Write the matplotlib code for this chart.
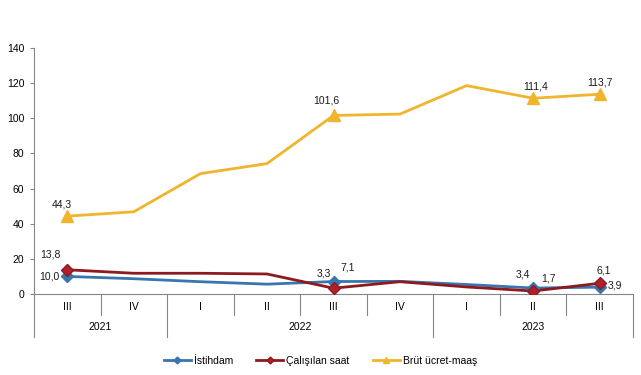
import matplotlib
matplotlib.use("Agg")
import matplotlib.pyplot as plt
from matplotlib.lines import Line2D

plt.rcParams['font.family'] = ['Liberation Sans', 'DejaVu Sans']

quarters = ["III", "IV", "I", "II", "III", "IV", "I", "II", "III"]
years = ["2021", "2022", "2023"]
year_spans = [(0, 1), (2, 5), (6, 8)]

istihdam = [10.0, 8.7, 7.0, 5.6, 7.1, 7.2, 5.4, 3.4, 3.9]
calisilan = [13.8, 11.8, 11.8, 11.4, 3.3, 7.0, 4.0, 1.7, 6.1]
brut = [44.3, 46.8, 68.5, 74.2, 101.6, 102.4, 118.6, 111.4, 113.7]

labeled_idx = [0, 4, 7, 8]
series_names = ["İstihdam", "Çalışılan saat", "Brüt ücret-maaş"]

c_blue = "#3776AE"
c_red = "#8C1A1F"
c_red_m = "#B0202A"
c_yel = "#EFB52D"

fig = plt.figure(figsize=(6.41, 3.75), dpi=100)
ax = fig.add_axes([34/641, 1-294/375, (633-34)/641, (294-48)/375])

x = list(range(len(quarters)))
ax.plot(x, istihdam, color=c_blue, lw=2.0, zorder=3)
ax.plot(x, calisilan, color=c_red, lw=2.0, zorder=4)
ax.plot(x, brut, color=c_yel, lw=2.0, zorder=3)

lx = labeled_idx
ax.plot(lx, [istihdam[i] for i in lx], ls='none', marker='D', ms=6, color=c_blue, zorder=5)
ax.plot(lx, [calisilan[i] for i in lx], ls='none', marker='D', ms=6, color=c_red_m, mec=c_red, zorder=6)
ax.plot(lx, [brut[i] for i in lx], ls='none', marker='^', ms=8, color=c_yel, zorder=5)

def fmt(v):
    return f"{v:.1f}".replace('.', ',')

offs = {
    ('b', 0): (-5, 12), ('b', 4): (-7, 15), ('b', 7): (2, 12), ('b', 8): (0, 12),
    ('r', 0): (-17, 15), ('r', 4): (-10, 15), ('r', 7): (15, 13), ('r', 8): (4, 13),
    ('i', 0): (-18, 0), ('i', 4): (14, 14), ('i', 7): (-10, 14), ('i', 8): (15, 2),
}
for key, data in (('b', brut), ('r', calisilan), ('i', istihdam)):
    for i in lx:
        dx, dy = offs[(key, i)]
        ax.annotate(fmt(data[i]), (i, data[i]), xytext=(dx, dy), textcoords='offset pixels',
                    ha='center', va='center', fontsize=7.5, color='#1a1a1a', zorder=7)

ax.set_xlim(-0.5, len(quarters) - 0.5)
ax.set_ylim(0, 140)
ax.set_yticks(range(0, 141, 20))
ax.tick_params(axis='y', labelsize=7.5, length=3, color='#868686', pad=4)
ax.set_xticks([])
for s in ('top', 'right'):
    ax.spines[s].set_visible(False)
for s in ('left', 'bottom'):
    ax.spines[s].set_color('#868686')
    ax.spines[s].set_linewidth(0.8)

trans = ax.get_xaxis_transform()
axh = 246.0
q_lab_y = -13/axh
y_lab_y = -33/axh
q_sep = -21/axh
y_sep = -43/axh
year_bounds = [-0.5, 1.5, 5.5, 8.5]
for k in range(len(quarters) + 1):
    b = k - 0.5
    low = y_sep if b in year_bounds else q_sep
    ax.add_line(Line2D([b, b], [0, low], transform=trans, color='#868686', lw=0.8, clip_on=False))
for i, q in enumerate(quarters):
    ax.text(i, q_lab_y, q, transform=trans, ha='center', va='center', fontsize=7.5)
for yr, (a, b) in zip(years, year_spans):
    ax.text((a + b) / 2, y_lab_y, yr, transform=trans, ha='center', va='center', fontsize=7.5)

handles = [
    Line2D([], [], color=c_blue, lw=2, marker='D', ms=3.5),
    Line2D([], [], color=c_red, lw=2, marker='D', ms=3.5, mfc=c_red_m),
    Line2D([], [], color=c_yel, lw=2, marker='^', ms=4.5),
]
fig.legend(handles, series_names, loc='center', bbox_to_anchor=(0.5, 1-361/375), ncol=3,
           frameon=False, fontsize=7.5, handlelength=2.6, handletextpad=0.3, columnspacing=2.2)

fig.savefig("out.png", dpi=100)
